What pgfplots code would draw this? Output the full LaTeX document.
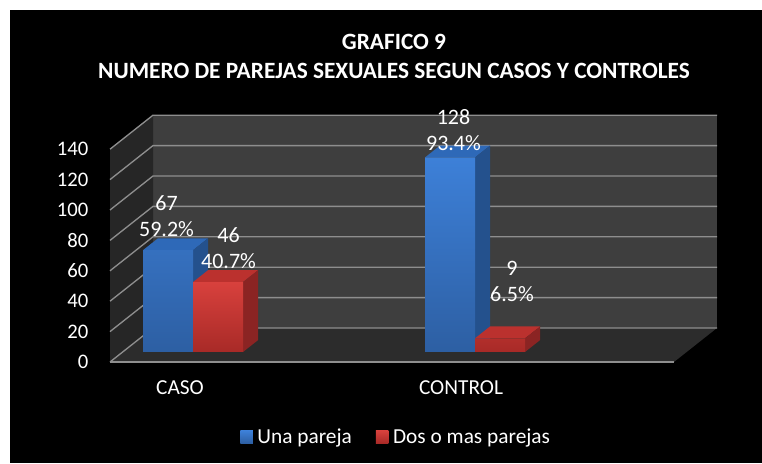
\documentclass[border=0pt]{standalone}
\usepackage{pgfplots}
\pgfplotsset{compat=1.18}
\usepackage{fontspec}
\setmainfont{Carlito}
\definecolor{backwall}{HTML}{3E3E3E}
\definecolor{leftwall}{HTML}{262626}
\definecolor{floorc}{HTML}{2C2C2C}
\definecolor{gridc}{HTML}{8E8E8E}
\definecolor{bluetop}{HTML}{3D80D8}
\definecolor{bluebot}{HTML}{2D5FA3}
\definecolor{bluetopface}{HTML}{2E69B8}
\definecolor{blueside}{HTML}{24518D}
\definecolor{redtop}{HTML}{D8413D}
\definecolor{redbot}{HTML}{A82A27}
\definecolor{redtopface}{HTML}{BB312E}
\definecolor{redside}{HTML}{8B2423}
\definecolor{legblue}{HTML}{3A78CF}
\definecolor{legred}{HTML}{C83532}
\newcommand{\lblfont}{\fontsize{16}{19.5}\selectfont}
\begin{document}
\begin{tikzpicture}
\begin{axis}[
  name=ax, scale only axis, width=571.5pt, height=347.25pt,
  xmin=0, xmax=762, ymin=-73.026, ymax=231.579,
  clip=false, no markers, axis on top,
  axis line style={draw=none}, tick style={draw=none}, major tick length=0pt,
  axis background/.style={fill=white},
  ytick={0,20,...,140},
  yticklabel style={anchor=east, inner sep=0pt, xshift=66.5pt, yshift=-7.5pt, text=white, font=\fontsize{15.5}{18}\selectfont},
  /pgf/number format/assume math mode=true,
  xtick={180,461}, xticklabels={CASO,CONTROL},
  xticklabel style={anchor=center, inner sep=0pt, yshift=56.25pt, text=white, font=\lblfont},
  legend columns=2,
  legend style={at={(axis cs:240,-55.9)}, anchor=west, draw=none, fill=none, inner sep=0pt,
    text=white, font=\fontsize{16}{18}\selectfont,
    /tikz/every odd column/.append style={column sep=1.5pt},
    /tikz/every even column/.append style={column sep=16pt}},
  every node near coord/.append style={text=white, font=\fontsize{16.5}{19.5}\selectfont, align=center, anchor=center, inner sep=0pt},
]
% background
\fill[black] (axis cs:10,225) rectangle (axis cs:762,-73.026);
% walls
\fill[backwall] (axis cs:153,15.79) rectangle (axis cs:717,155.79);
\fill[leftwall] (axis cs:153,15.79) -- (axis cs:153,155.79) -- (axis cs:110,133.42) -- (axis cs:110,-6.58) -- cycle;
\fill[floorc] (axis cs:153,15.79) -- (axis cs:717,15.79) -- (axis cs:674,-6.58) -- (axis cs:110,-6.58) -- cycle;
% grid
\draw[gridc, line width=1pt] (axis cs:110,-6.58) -- (axis cs:153,15.79) -- (axis cs:717,15.79);
\draw[gridc, line width=1pt] (axis cs:110,13.42) -- (axis cs:153,35.79) -- (axis cs:717,35.79);
\draw[gridc, line width=1pt] (axis cs:110,33.42) -- (axis cs:153,55.79) -- (axis cs:717,55.79);
\draw[gridc, line width=1pt] (axis cs:110,53.42) -- (axis cs:153,75.79) -- (axis cs:717,75.79);
\draw[gridc, line width=1pt] (axis cs:110,73.42) -- (axis cs:153,95.79) -- (axis cs:717,95.79);
\draw[gridc, line width=1pt] (axis cs:110,93.42) -- (axis cs:153,115.79) -- (axis cs:717,115.79);
\draw[gridc, line width=1pt] (axis cs:110,113.42) -- (axis cs:153,135.79) -- (axis cs:717,135.79);
\draw[gridc, line width=1pt] (axis cs:110,133.42) -- (axis cs:153,155.79) -- (axis cs:717,155.79);
\draw[gridc, line width=1pt] (axis cs:110,-6.58) -- (axis cs:674,-6.58);
% blue bars: top and side faces
\addplot[fill=bluetopface, draw=none, forget plot] coordinates {(143,67) (193,67) (208,74.8) (158,74.8) (143,67)};
\addplot[fill=blueside, draw=none, forget plot] coordinates {(193,0) (208,7.8) (208,74.8) (193,67) (193,0)};
\addplot[fill=bluetopface, draw=none, forget plot] coordinates {(425,128) (475,128) (490,135.8) (440,135.8) (425,128)};
\addplot[fill=blueside, draw=none, forget plot] coordinates {(475,0) (490,7.8) (490,135.8) (475,128) (475,0)};
% blue front
\addplot[ybar, bar width=50, bar shift=0pt, draw=none, top color=bluetop, bottom color=bluebot,
  point meta=y,
  visualization depends on={value \thisrow{pct}\as\pct},
  visualization depends on={value \thisrow{dx}\as\dx},
  visualization depends on={value \thisrow{dy}\as\dy},
  nodes near coords={\pgfmathprintnumber{\pgfplotspointmeta}\\\pct\%},
  every node near coord/.append style={xshift=\dx pt, yshift=\dy pt},
  legend image code/.code={\fill[legblue] (0pt,-4.7pt) rectangle (9.4pt,4.7pt);}]
  table {
x y pct dx dy
168 67 59.2 -1.1 25.5
450 128 93.4 2.6 20.6
};
\addlegendentry{Una pareja}
% red bars: top and side faces
\addplot[fill=redtopface, draw=none, forget plot] coordinates {(193,46) (243,46) (258,53.8) (208,53.8) (193,46)};
\addplot[fill=redside, draw=none, forget plot] coordinates {(243,0) (258,7.8) (258,53.8) (243,46) (243,0)};
\addplot[fill=redtopface, draw=none, forget plot] coordinates {(475,9) (525,9) (540,16.8) (490,16.8) (475,9)};
\addplot[fill=redside, draw=none, forget plot] coordinates {(525,0) (540,7.8) (540,16.8) (525,9) (525,0)};
% red front
\addplot[ybar, bar width=50, bar shift=0pt, draw=none, top color=redtop, bottom color=redbot,
  point meta=y,
  visualization depends on={value \thisrow{pct}\as\pct},
  visualization depends on={value \thisrow{dx}\as\dx},
  visualization depends on={value \thisrow{dy}\as\dy},
  nodes near coords={\pgfmathprintnumber{\pgfplotspointmeta}\\\pct\%},
  every node near coord/.append style={xshift=\dx pt, yshift=\dy pt},
  legend image code/.code={\fill[legred] (0pt,-4.7pt) rectangle (9.4pt,4.7pt);}]
  table {
x y pct dx dy
218 46 40.7 7.9 25.5
500 9 6.5 9 42.4
};
\addlegendentry{Dos o mas parejas}
% title
\node[text=white, font=\bfseries\fontsize{17.5}{21.75}\selectfont, align=center] at (axis cs:394,194.2)
  {GRAFICO 9\\NUMERO DE PAREJAS SEXUALES SEGUN CASOS Y CONTROLES};
\end{axis}
\pgfresetboundingbox
\path (ax.south west) rectangle (ax.north east);
\end{tikzpicture}
\end{document}
